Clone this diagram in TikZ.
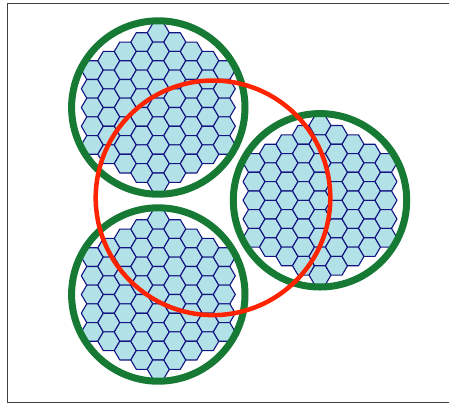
\documentclass[tikz,border=0pt]{standalone}
\definecolor{cellfill}{RGB}{178,226,232}
\definecolor{cellline}{RGB}{20,20,130}
\definecolor{ringgreen}{RGB}{22,122,52}
\definecolor{ringred}{RGB}{255,36,0}
\newcommand\hexdisc[2]{%
  \foreach \i in {-4,...,4}{%
    \foreach \j in {-5,...,5}{%
      \pgfmathsetmacro\oy{18.7*(\j+0.5*mod(abs(\i),2))}%
      \pgfmathsetmacro\ox{16.5*\i}%
      \pgfmathsetmacro\dd{veclen(\ox,\oy)}%
      \ifdim\dd pt<79pt
        \draw[cell] (#1+\ox,#2+\oy) +(11,0) -- +(5.5,9.35) -- +(-5.5,9.35) -- +(-11,0) -- +(-5.5,-9.35) -- +(5.5,-9.35) -- cycle;
      \fi
    }%
  }%
}
\begin{document}
\begin{tikzpicture}[x=1pt,y=-1pt,
  cell/.style={fill=cellfill,draw=cellline,line width=1.1pt,line join=round},
  greenring/.style={draw=ringgreen,line width=7pt},
  redring/.style={draw=ringred,line width=4.5pt},
  frame/.style={draw=black!75,line width=1.6pt}]
\useasboundingbox (0,0) rectangle (449,405);
\fill[white] (0,0) rectangle (449,405);
\draw[frame] (452,3.6) -- (7.6,3.6) -- (7.6,402.6) -- (452,402.6);
\hexdisc{158.3}{107.5}
\hexdisc{158.3}{294.5}
\hexdisc{320}{200.3}
\coordinate (ctop) at (158.3,107.5);
\coordinate (cbot) at (158.3,294.5);
\coordinate (cright) at (320,200.3);
\coordinate (cred) at (213,197.8);
\draw[greenring] (ctop) circle[radius=86.7];
\draw[greenring] (cbot) circle[radius=86.7];
\draw[greenring] (cright) circle[radius=86.7];
\draw[redring] (cred) circle[radius=117.3];
\end{tikzpicture}
\end{document}
